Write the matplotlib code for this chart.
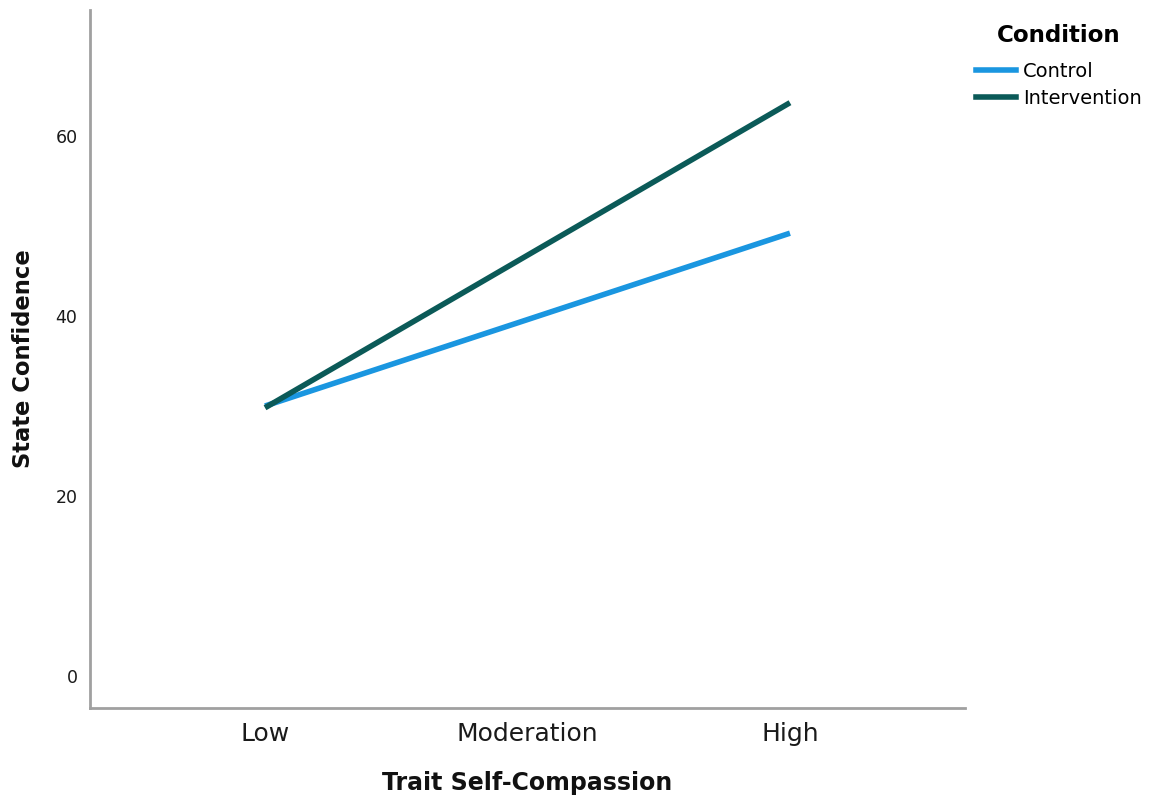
import matplotlib
matplotlib.use("Agg")
import matplotlib.pyplot as plt
from matplotlib.lines import Line2D

categories = ["Low", "Moderation", "High"]
control = [30.0, 39.6, 49.2]
intervention = [29.8, 46.8, 63.7]
series_names = ["Control", "Intervention"]
colors = ["#1a96e0", "#0b5a58"]
yticks = [0, 20, 40, 60]

plt.rcParams['font.family'] = ['DejaVu Sans']

fig = plt.figure(figsize=(11.49, 8), dpi=100)
ax = fig.add_axes([0.0783, 0.115, 0.7616, 0.8725])

x = list(range(len(categories)))
ax.plot([x[0], x[2]], [control[0], control[2]], color=colors[0], lw=4, solid_capstyle='butt')
ax.plot([x[0], x[2]], [intervention[0], intervention[2]], color=colors[1], lw=4, solid_capstyle='butt')

ax.set_xlim(-0.667, 2.667)
ax.set_ylim(-3.56, 74)
ax.set_xticks(x)
ax.set_xticklabels(categories, fontsize=18)
ax.set_yticks(yticks)
ax.set_yticklabels([str(v) for v in yticks], fontsize=12.5)
ax.tick_params(axis='both', length=0, colors='#1a1a1a')
ax.tick_params(axis='x', pad=10)
ax.tick_params(axis='y', pad=9)

for s in ['top', 'right']:
    ax.spines[s].set_visible(False)
for s in ['left', 'bottom']:
    ax.spines[s].set_color('#a0a0a0')
    ax.spines[s].set_linewidth(2)

ax.set_xlabel("Trait Self-Compassion", fontsize=17, fontweight='bold', labelpad=18, color='#111111')
ax.set_ylabel("State Confidence", fontsize=16.3, fontweight='bold', labelpad=15, color='#111111')

handles = [Line2D([0], [0], color=c, lw=4) for c in colors]
leg = fig.legend(handles, series_names, title="Condition", loc='upper left',
                 bbox_to_anchor=(966 / 1149, 1 - 14 / 800), frameon=False, fontsize=14,
                 handlelength=2.06, handletextpad=0.36, labelspacing=0.42, borderpad=0,
                 title_fontproperties={'weight': 'bold', 'size': 16.6})
leg._legend_box.sep = 11

fig.savefig("out.png", dpi=100)
